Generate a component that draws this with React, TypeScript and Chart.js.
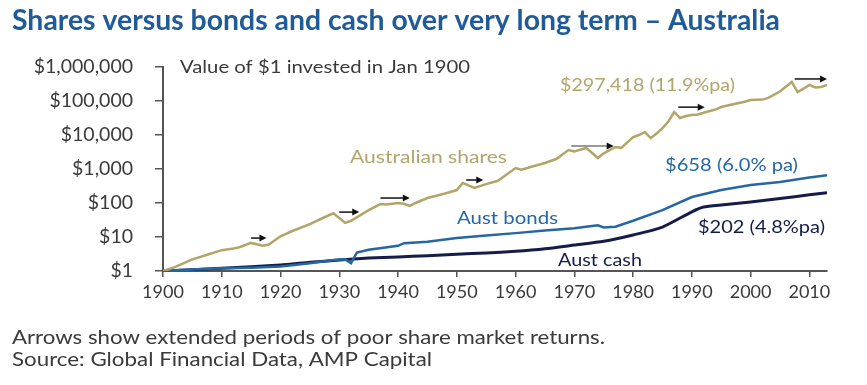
import React, { useEffect, useRef } from "react";
import { Chart, registerables } from "chart.js";

Chart.register(...registerables);

// ---- Data (value of $1 invested in Jan 1900) ----
const sharesYears = [1900, 1902, 1905, 1907, 1910, 1912, 1913, 1915, 1917, 1918, 1920, 1922, 1925, 1927, 1929, 1931, 1932, 1935, 1937, 1938, 1940, 1941, 1942, 1943, 1945, 1948, 1950, 1951, 1953, 1955, 1957, 1960, 1961, 1963, 1965, 1967, 1969, 1970, 1972, 1973, 1974, 1975, 1977, 1978, 1980, 1981, 1982, 1983, 1984, 1985, 1986, 1987, 1988, 1989, 1990, 1991, 1992, 1994, 1995, 1997, 1999, 2000, 2002, 2003, 2005, 2007, 2008, 2009, 2010, 2011, 2012, 2013];
const sharesValues = [1, 1.3, 2.2, 2.8, 4.1, 4.6, 5, 6.7, 5.5, 6, 10.5, 15, 24, 35, 50, 26, 30, 62, 93, 90, 100, 95, 82, 100, 140, 190, 240, 390, 276, 360, 450, 1070, 950, 1200, 1500, 2000, 3600, 3300, 4150, 3000, 2100, 2900, 4450, 4200, 8700, 10000, 12300, 8100, 11000, 16000, 25000, 47500, 31600, 36000, 38700, 40000, 45000, 56000, 66500, 80000, 95000, 107000, 110000, 123000, 190000, 363000, 183000, 230000, 297000, 250000, 258000, 297418];

const bondsYears = [1900, 1905, 1910, 1915, 1920, 1925, 1929, 1931, 1932, 1933, 1935, 1940, 1941, 1945, 1950, 1955, 1960, 1965, 1970, 1972, 1974, 1975, 1977, 1980, 1985, 1990, 1995, 2000, 2005, 2010, 2013];
const bondsValues = [1, 1.1, 1.2, 1.25, 1.35, 1.7, 2.1, 2.2, 1.7, 3.5, 4.2, 5.5, 6.6, 7.3, 9.3, 11, 13, 15.5, 18, 20, 22, 19, 20, 30, 62, 150, 240, 340, 415, 560, 658];

const cashYears = [1900, 1910, 1920, 1925, 1930, 1935, 1940, 1945, 1950, 1955, 1960, 1965, 1970, 1975, 1980, 1985, 1990, 1992, 1995, 2000, 2005, 2010, 2013];
const cashValues = [1, 1.2, 1.5, 1.8, 2.1, 2.4, 2.6, 2.8, 3.1, 3.4, 3.8, 4.5, 5.8, 7.5, 11.5, 19.6, 55, 76, 88, 107, 135, 175, 202];

// Periods of poor share market returns (arrows)
const arrowStart = [1915, 1930, 1937, 1951.6, 1969.5, 1987.7, 2007.5];
const arrowEnd = [1917.6, 1933.4, 1942, 1954.5, 1976.7, 1992.2, 2013];
const arrowLevel = [9.3, 54, 140, 475, 4750, 66000, 445000];

const xTickYears = [1900, 1910, 1920, 1930, 1940, 1950, 1960, 1970, 1980, 1990, 2000, 2010];
const yTickValues = [1, 10, 100, 1000, 10000, 100000, 1000000];

const TITLE = "Shares versus bonds and cash over very long term \u2013 Australia";
const SUBTITLE = "Value of $1 invested in Jan 1900";
const NOTE1 = "Arrows show extended periods of poor share market returns.";
const NOTE2 = "Source: Global Financial Data, AMP Capital";

const GOLD = "#b3a56a";
const BLUE = "#2467a3";
const NAVY = "#141c4a";
const TEXT = "#3a3a3a";
const FONT = "Lato, 'Open Sans', sans-serif";

const toPoints = (xs: number[], ys: number[]) => xs.map((x, i) => ({ x, y: ys[i] }));

function fitText(ctx: CanvasRenderingContext2D, text: string, x: number, y: number, width: number, size: number, weight: string, color: string) {
  ctx.font = `${weight} ${size}px ${FONT}`;
  const w = ctx.measureText(text).width;
  ctx.save();
  ctx.translate(x, y);
  ctx.scale(width / w, 1);
  ctx.fillStyle = color;
  ctx.textAlign = "left";
  ctx.textBaseline = "middle";
  ctx.fillText(text, 0, 0);
  ctx.restore();
}

const decorPlugin = {
  id: "decor",
  afterDatasetsDraw(chart: any) {
    const { ctx, scales } = chart;
    const xs = scales.x;
    const ys = scales.y;
    arrowStart.forEach((s, i) => {
      const x0 = xs.getPixelForValue(s);
      const x1 = xs.getPixelForValue(arrowEnd[i]);
      const yy = ys.getPixelForValue(arrowLevel[i]);
      ctx.save();
      ctx.strokeStyle = i === 4 ? "#777777" : "#111111";
      ctx.fillStyle = "#111111";
      ctx.lineWidth = 1.5;
      ctx.beginPath();
      ctx.moveTo(x0, yy);
      ctx.lineTo(x1 - 5, yy);
      ctx.stroke();
      ctx.beginPath();
      ctx.moveTo(x1, yy);
      ctx.lineTo(x1 - 7, yy - 3.5);
      ctx.lineTo(x1 - 7, yy + 3.5);
      ctx.closePath();
      ctx.fill();
      ctx.restore();
    });
  },
  afterDraw(chart: any) {
    const { ctx } = chart;
    fitText(ctx, TITLE, 12, 21, 768, 29, "bold", "#1f5b98");
    fitText(ctx, SUBTITLE, 180, 67, 290, 18, "normal", TEXT);
    fitText(ctx, "$297,418 (11.9%pa)", 560, 85, 175, 18, "normal", GOLD);
    fitText(ctx, "Australian shares", 350, 157, 157, 18, "normal", GOLD);
    fitText(ctx, "$658 (6.0% pa)", 665, 165, 133, 18, "normal", BLUE);
    fitText(ctx, "Aust bonds", 457, 218, 101, 18, "normal", BLUE);
    fitText(ctx, "$202 (4.8%pa)", 698, 227, 127, 18, "normal", NAVY);
    fitText(ctx, "Aust cash", 558, 260, 84, 18, "normal", NAVY);
    fitText(ctx, NOTE1, 12, 338, 593, 18.5, "normal", TEXT);
    fitText(ctx, NOTE2, 12, 360, 420, 18.5, "normal", TEXT);
  },
};

export default function App() {
  const ref = useRef<HTMLCanvasElement>(null);
  useEffect(() => {
    if (!ref.current) return;
    const chart = new Chart(ref.current, {
      type: "line",
      data: {
        datasets: [
          { label: "Australian shares", data: toPoints(sharesYears, sharesValues), borderColor: GOLD, borderWidth: 2.5, pointRadius: 0, tension: 0 },
          { label: "Aust bonds", data: toPoints(bondsYears, bondsValues), borderColor: BLUE, borderWidth: 2.5, pointRadius: 0, tension: 0 },
          { label: "Aust cash", data: toPoints(cashYears, cashValues), borderColor: NAVY, borderWidth: 3, pointRadius: 0, tension: 0.2 },
        ],
      },
      options: {
        responsive: false,
        animation: false,
        devicePixelRatio: 1,
        layout: { padding: { left: 0, top: 67, right: 40, bottom: 0 } },
        plugins: { legend: { display: false }, tooltip: { enabled: false }, title: { display: false } },
        scales: {
          x: {
            type: "linear",
            min: 1900,
            max: 2013,
            afterBuildTicks: (s: any) => { s.ticks = xTickYears.map((v) => ({ value: v })); },
            afterFit: (s: any) => { s.height = 114; },
            grid: { drawOnChartArea: false, drawTicks: true, tickLength: 6, color: "#555555", lineWidth: 1.5 },
            border: { color: "#555555", width: 2 },
            ticks: { color: TEXT, font: { family: FONT, size: 18 }, padding: 4, maxRotation: 0, autoSkip: false, callback: (v: any) => String(v) },
          },
          y: {
            type: "logarithmic",
            min: 1,
            max: 1000000,
            afterBuildTicks: (s: any) => { s.ticks = yTickValues.map((v) => ({ value: v })); },
            afterFit: (s: any) => { s.width = 163; },
            grid: { drawOnChartArea: false, drawTicks: true, tickLength: 8, color: "#555555", lineWidth: 1.5 },
            border: { color: "#555555", width: 2 },
            ticks: { color: TEXT, font: { family: FONT, size: 19.5 }, padding: 22, autoSkip: false, callback: (v: any) => "$" + Number(v).toLocaleString("en-US") },
          },
        },
      },
      plugins: [decorPlugin],
    } as any);
    return () => chart.destroy();
  }, []);
  return (
    <div style={{ position: "absolute", left: 0, top: 0, width: 867, height: 385, background: "#ffffff" }}>
      <canvas ref={ref} width={867} height={385} />
    </div>
  );
}
